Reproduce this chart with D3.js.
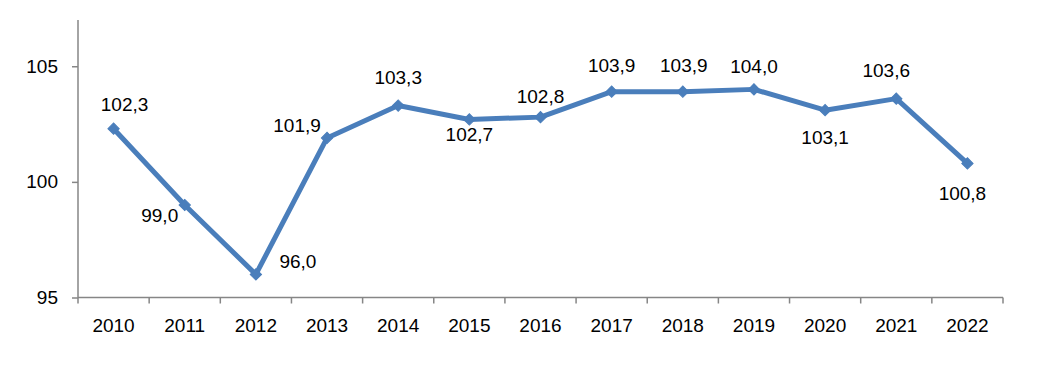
<!DOCTYPE html>
<html>
<head>
<meta charset="utf-8">
<script src="https://cdn.jsdelivr.net/npm/d3@7"></script>
<style>
  html, body { margin: 0; padding: 0; background: #fff; }
  svg { display: block; }
  text { font-family: "Liberation Sans", Arial, sans-serif; font-size: 19px; fill: #000; }
</style>
</head>
<body>
<svg id="chart" width="1058" height="373"></svg>
<script>
// ---- data ----
const years = ["2010","2011","2012","2013","2014","2015","2016","2017","2018","2019","2020","2021","2022"];
const values = [102.3, 99.0, 96.0, 101.9, 103.3, 102.7, 102.8, 103.9, 103.9, 104.0, 103.1, 103.6, 100.8];
const yTicks = [95, 100, 105];

// ---- label placement (relative to point) ----
const labelOffsets = [
  [11, -24], [-25, 10], [42, -13], [-30, -13], [0, -28], [0, 15], [0, -21],
  [0, -26], [1, -26], [0, -23], [0, 27], [-10, -28], [-5, 30]
];

(function () {
const svg = d3.select("#chart");
const mLeft = 78, mRight = 1003, mTop = 20, mBottom = 297.5;

const x = d3.scaleBand().domain(years).range([mLeft, mRight]).padding(0);
const y = d3.scaleLinear().domain([95, 107]).range([mBottom, mTop]);
const cx = d => x(d) + x.bandwidth() / 2;

const axisColor = "#868686";

// Y axis
const yAxis = svg.append("g").attr("transform", `translate(${mLeft},0)`)
  .call(d3.axisLeft(y).tickValues(yTicks).tickSize(6).tickPadding(14).tickFormat(d3.format("d")));
yAxis.select(".domain").attr("stroke", axisColor).attr("stroke-width", 1.5).attr("d", `M0,${mTop}V${mBottom}`);
yAxis.selectAll(".tick line").attr("stroke", axisColor).attr("stroke-width", 1.5);
yAxis.selectAll(".tick text").style("font-family", "Liberation Sans, Arial, sans-serif").style("font-size", "19px").attr("fill", "#000");

// X axis
const xAxisG = svg.append("g").attr("transform", `translate(0,${mBottom})`);
xAxisG.append("line").attr("x1", mLeft).attr("x2", mRight).attr("y1", 0).attr("y2", 0)
  .attr("stroke", axisColor).attr("stroke-width", 1.5);
const bounds = years.map(d => x(d)).concat([mRight]);
xAxisG.selectAll("line.tk").data(bounds).enter().append("line").attr("class", "tk")
  .attr("x1", d => d).attr("x2", d => d).attr("y1", 0).attr("y2", 6)
  .attr("stroke", axisColor).attr("stroke-width", 1.5);
xAxisG.selectAll("text").data(years).enter().append("text")
  .attr("x", d => cx(d)).attr("y", 28).attr("dy", "0.35em").attr("text-anchor", "middle")
  .text(d => d);

// Line
const color = "#4a7ebb";
const line = d3.line().x((d, i) => cx(years[i])).y(d => y(d));
svg.append("path").datum(values).attr("d", line)
  .attr("fill", "none").attr("stroke", color).attr("stroke-width", 5).attr("stroke-linejoin", "round");

// Markers (diamonds)
svg.selectAll("path.mk").data(values).enter().append("path").attr("class", "mk")
  .attr("d", d3.symbol().type(d3.symbolSquare).size(64))
  .attr("transform", (d, i) => `translate(${cx(years[i])},${y(d)}) rotate(45)`)
  .attr("fill", color).attr("stroke", color).attr("stroke-width", 1);

// Data labels
const fmt = v => v.toFixed(1).replace(".", ",");
svg.selectAll("text.lbl").data(values).enter().append("text").attr("class", "lbl")
  .attr("x", (d, i) => cx(years[i]) + labelOffsets[i][0])
  .attr("y", (d, i) => y(d) + labelOffsets[i][1])
  .attr("dy", "0.35em").attr("text-anchor", "middle")
  .text(fmt);
})();
</script>
</body>
</html>
